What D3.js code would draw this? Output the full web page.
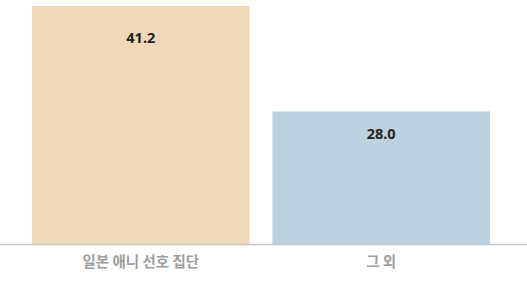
<!DOCTYPE html>
<html><head><meta charset="utf-8">
<script src="https://cdn.jsdelivr.net/npm/d3@7"></script>
<style>
html,body{margin:0;padding:0;background:#fff;}
svg{display:block;}
</style></head>
<body>
<svg id="chart" width="527" height="283"></svg>
<script>
const categories = ["일본 애니 선호 집단", "그 외"];
const values = [41.2, 28.0];
const colors = ["#efd9b9", "#bcd2e1"];

const W = 527, H = 283;
const svg = d3.select("#chart");
const x = d3.scaleBand().domain(categories).range([20, 502]).paddingInner(0.095).paddingOuter(0.05);
const y = d3.scaleLinear().domain([11.4, 41.2]).range([244, 6]);

svg.selectAll("rect.bar").data(values).enter().append("rect")
  .attr("class","bar")
  .attr("x", (d,i)=>x(categories[i]))
  .attr("width", x.bandwidth())
  .attr("y", d=>y(d))
  .attr("height", d=>y.range()[0]-y(d))
  .attr("fill", (d,i)=>colors[i]);

svg.selectAll("text.val").data(values).enter().append("text")
  .attr("class","val")
  .attr("x", (d,i)=>x(categories[i])+x.bandwidth()/2)
  .attr("y", d=>y(d*0.916)+9)
  .attr("text-anchor","middle")
  .attr("font-family","'Noto Sans', sans-serif")
  .attr("font-weight","700")
  .attr("font-size","14.5px")
  .attr("fill","#231f20")
  .text(d=>d.toFixed(1));

const axis = d3.axisBottom(x).tickSize(0).tickPadding(13);
const g = svg.append("g").attr("transform","translate(0,244)").call(axis);
g.select(".domain").remove();
g.append("line").attr("x1",0).attr("x2",W).attr("y1",0.5).attr("y2",0.5)
  .attr("stroke","#c4c4c4").attr("stroke-width",1.5);
g.selectAll(".tick text")
  .attr("font-family","'Noto Sans CJK KR', sans-serif")
  .attr("font-weight","700")
  .attr("font-size","14.5px")
  .attr("fill","#9d9d9d");
</script>
</body></html>
